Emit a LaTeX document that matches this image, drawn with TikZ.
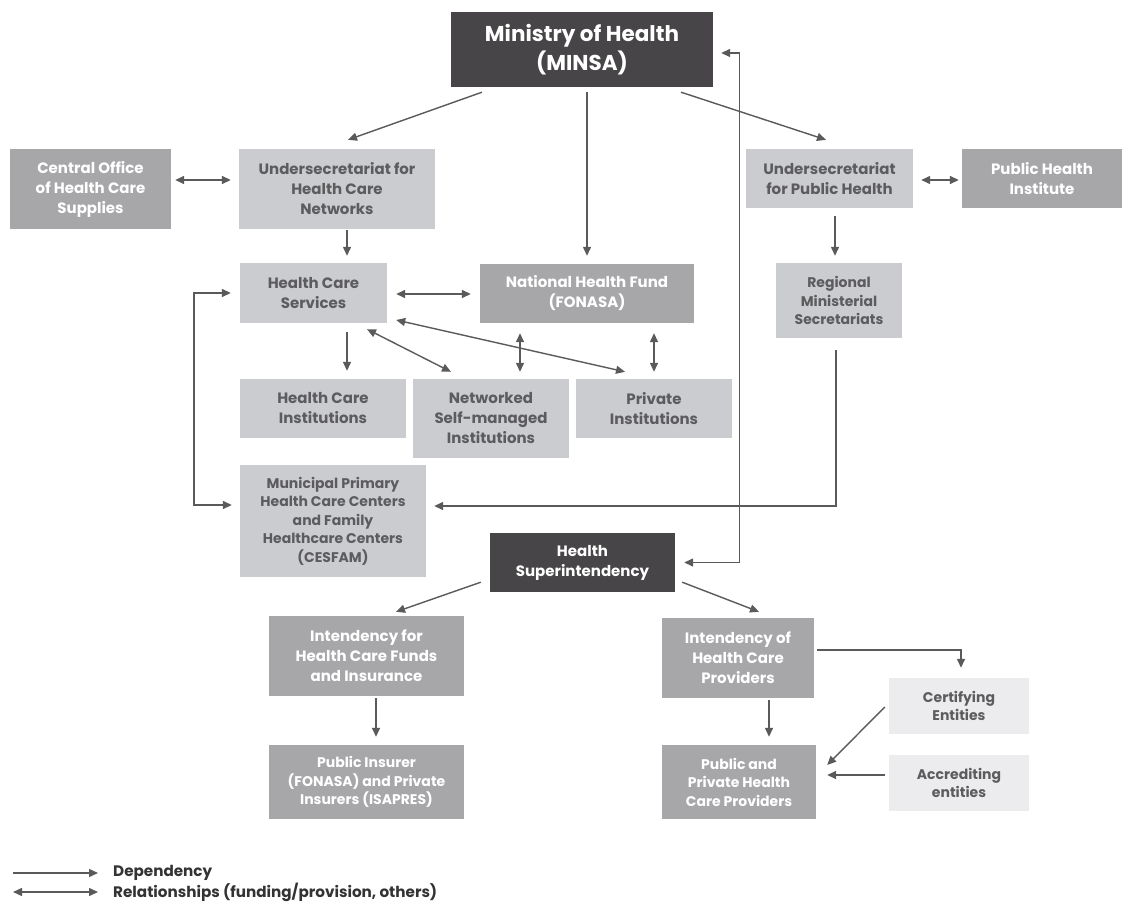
\documentclass[tikz,border=0pt]{standalone}
\usepackage{fontspec}
\setmainfont{Poppins}
\usetikzlibrary{arrows.meta,calc}
\definecolor{cdark}{HTML}{474547}
\definecolor{cmid}{HTML}{A7A7AA}
\definecolor{clight}{HTML}{CBCCD0}
\definecolor{cpale}{HTML}{ECECEE}
\definecolor{ctext}{HTML}{5C5C5E}
\definecolor{carrow}{HTML}{5A5A5C}
\definecolor{clegend}{HTML}{333333}
\tikzset{
  box/.style={rectangle, inner sep=0pt, align=center, font=\bfseries\fontsize{15}{20}\selectfont},
  smalltext/.style={font=\bfseries\fontsize{14}{18.5}\selectfont},
  darkbox/.style={box, fill=cdark, text=white},
  midbox/.style={box, fill=cmid, text=white},
  lightbox/.style={box, fill=clight, text=ctext},
  palebox/.style={box, fill=cpale, text=ctext},
  dep/.style={draw=carrow, line width=1.4pt, -{Triangle[length=9pt,width=8pt]}},
  rel/.style={draw=carrow, line width=1.4pt, {Triangle[length=9pt,width=8pt]}-{Triangle[length=9pt,width=8pt]}},
  legtext/.style={anchor=west, inner sep=0pt, text=clegend, font=\bfseries\fontsize{15.2}{17}\selectfont},
}
\begin{document}
\begin{tikzpicture}[x=1pt,y=-1pt]
\fill[white] (0,0) rectangle (1122,904);
\useasboundingbox (0,0) rectangle (1122,904);
% nodes
\node[darkbox, minimum width=262pt, minimum height=75pt, font=\bfseries\fontsize{21.5}{29.5}\selectfont] (minsa) at (582,49.5) {Ministry of Health\\(MINSA)};
\node[midbox, minimum width=161pt, minimum height=80pt] (co) at (90.5,189) {Central Office\\of Health Care\\Supplies};
\node[lightbox, minimum width=196pt, minimum height=80pt] (uhcn) at (337,189) {Undersecretariat for\\Health Care\\Networks};
\node[lightbox, minimum width=167pt, minimum height=59pt] (uph) at (829.5,178.5) {Undersecretariat\\for Public Health};
\node[midbox, minimum width=160pt, minimum height=59pt] (phi) at (1042,178.5) {Public Health\\Institute};
\node[lightbox, minimum width=147pt, minimum height=60pt] (hcs) at (313.5,293) {Health Care\\Services};
\node[midbox, minimum width=214pt, minimum height=59pt] (nhf) at (587,293.5) {National Health Fund\\(FONASA)};
\node[lightbox, smalltext, minimum width=126pt, minimum height=75pt] (rms) at (839,300.5) {Regional\\Ministerial\\Secretariats};
\node[lightbox, minimum width=166pt, minimum height=59pt] (hci) at (323,408.5) {Health Care\\Institutions};
\node[lightbox, minimum width=156pt, minimum height=79pt] (nsi) at (491,418.5) {Networked\\Self-managed\\Institutions};
\node[lightbox, minimum width=156pt, minimum height=59pt] (pi) at (654,408.5) {Private\\Institutions};
\node[lightbox, smalltext, minimum width=186pt, minimum height=112pt] (mun) at (333,521) {Municipal Primary\\Health Care Centers\\and Family\\Healthcare Centers\\(CESFAM)};
\node[darkbox, minimum width=185pt, minimum height=59pt] (hs) at (582.5,562.5) {Health\\Superintendency};
\node[midbox, minimum width=195pt, minimum height=80pt] (ihcfi) at (366.5,656) {Intendency for\\Health Care Funds\\and Insurance};
\node[midbox, smalltext, minimum width=195pt, minimum height=74pt] (pubins) at (366.5,782) {Public Insurer\\(FONASA) and Private\\Insurers (ISAPRES)};
\node[midbox, minimum width=152pt, minimum height=80pt] (ihcp) at (738,658) {Intendency of\\Health Care\\Providers};
\node[midbox, smalltext, minimum width=154pt, minimum height=74pt] (pphcp) at (739,782) {Public and\\Private Health\\Care Providers};
\node[palebox, smalltext, minimum width=140pt, minimum height=56pt] (cert) at (959,706) {Certifying\\Entities};
\node[palebox, smalltext, minimum width=140pt, minimum height=56pt] (acc) at (959,783) {Accrediting\\entities};
% connectors
\draw[dep] ([xshift=-100pt,yshift=-5pt]minsa.south) -- ([xshift=11pt,yshift=9pt]uhcn.north);
\draw[dep] ([xshift=5pt,yshift=-5pt]minsa.south) -- ([yshift=8pt]nhf.north);
\draw[dep] ([xshift=99pt,yshift=-5pt]minsa.south) -- ([xshift=-3.5pt,yshift=9pt]uph.north);
\draw[rel] ([xshift=4pt,yshift=9pt]co.east) -- ([xshift=-8pt,yshift=9pt]uhcn.west);
\draw[rel] ([xshift=8pt,yshift=-1.5pt]uph.east) -- ([xshift=-3pt,yshift=-1.5pt]phi.west);
\draw[dep] ([xshift=10pt,yshift=-1pt]uhcn.south) -- ([xshift=33.5pt,yshift=7pt]hcs.north);
\draw[dep] ([xshift=5.5pt,yshift=-8pt]uph.south) -- ([xshift=-4pt,yshift=7pt]rms.north);
\draw[rel] ([xshift=9pt,yshift=-1pt]hcs.east) -- ([xshift=-9pt,yshift=-0.5pt]nhf.west);
\draw[dep] ([xshift=33.5pt,yshift=-9pt]hcs.south) -- ([xshift=24pt,yshift=8pt]hci.north);
\draw[rel] ([xshift=53.5pt,yshift=-6pt]hcs.south) -- ([xshift=-40pt,yshift=7pt]nsi.north);
\draw[rel] ([xshift=9pt,yshift=-27pt]hcs.east) -- ([xshift=-29pt,yshift=7pt]pi.north);
\draw[rel] ([xshift=-67pt,yshift=-10pt]nhf.south) -- ([xshift=29pt,yshift=7pt]nsi.north);
\draw[rel] ([xshift=67pt,yshift=-10pt]nhf.south) -- ([yshift=7pt]pi.north);
\draw[rel] ([xshift=-9pt]hcs.west) -- ++(-37,0) |- ([xshift=-8pt,yshift=16pt]mun.west);
\draw[dep] ([xshift=-3pt,yshift=-12pt]rms.south) |- ([xshift=8pt,yshift=15pt]mun.east);
\draw[rel] ([xshift=8pt,yshift=-3.5pt]minsa.east) -- ++(18,0) |- ([xshift=9pt]hs.east);
\draw[dep] ([xshift=-9pt,yshift=10pt]hs.south west) -- ([xshift=29.5pt,yshift=4pt]ihcfi.north);
\draw[dep] ([xshift=7pt,yshift=10pt]hs.south east) -- ([xshift=21pt,yshift=6pt]ihcp.north);
\draw[dep] ([xshift=9.5pt,yshift=-2pt]ihcfi.south) -- ([xshift=9.5pt,yshift=8pt]pubins.north);
\draw[dep] ([xshift=31pt,yshift=-2pt]ihcp.south) -- ([xshift=30pt,yshift=8pt]pphcp.north);
\draw[dep] ([xshift=3pt,yshift=8pt]ihcp.east) -| ([xshift=2pt,yshift=10pt]cert.north);
\draw[dep] ([xshift=-4pt,yshift=-1pt]cert.west) -- ([xshift=11pt,yshift=17pt]pphcp.east);
\draw[dep] ([xshift=-4pt,yshift=8pt]acc.west) -- ([xshift=11pt,yshift=7pt]pphcp.east);
% legend
\coordinate (l1a) at (13,873);
\coordinate (l1b) at (98,873);
\coordinate (l2a) at (13,892);
\coordinate (l2b) at (98,892);
\draw[dep] (l1a) -- (l1b);
\draw[rel] (l2a) -- (l2b);
\node[legtext] (leg1) at (113,873) {Dependency};
\node[legtext] (leg2) at (113,892) {Relationships (funding/provision, others)};
\end{tikzpicture}
\end{document}
